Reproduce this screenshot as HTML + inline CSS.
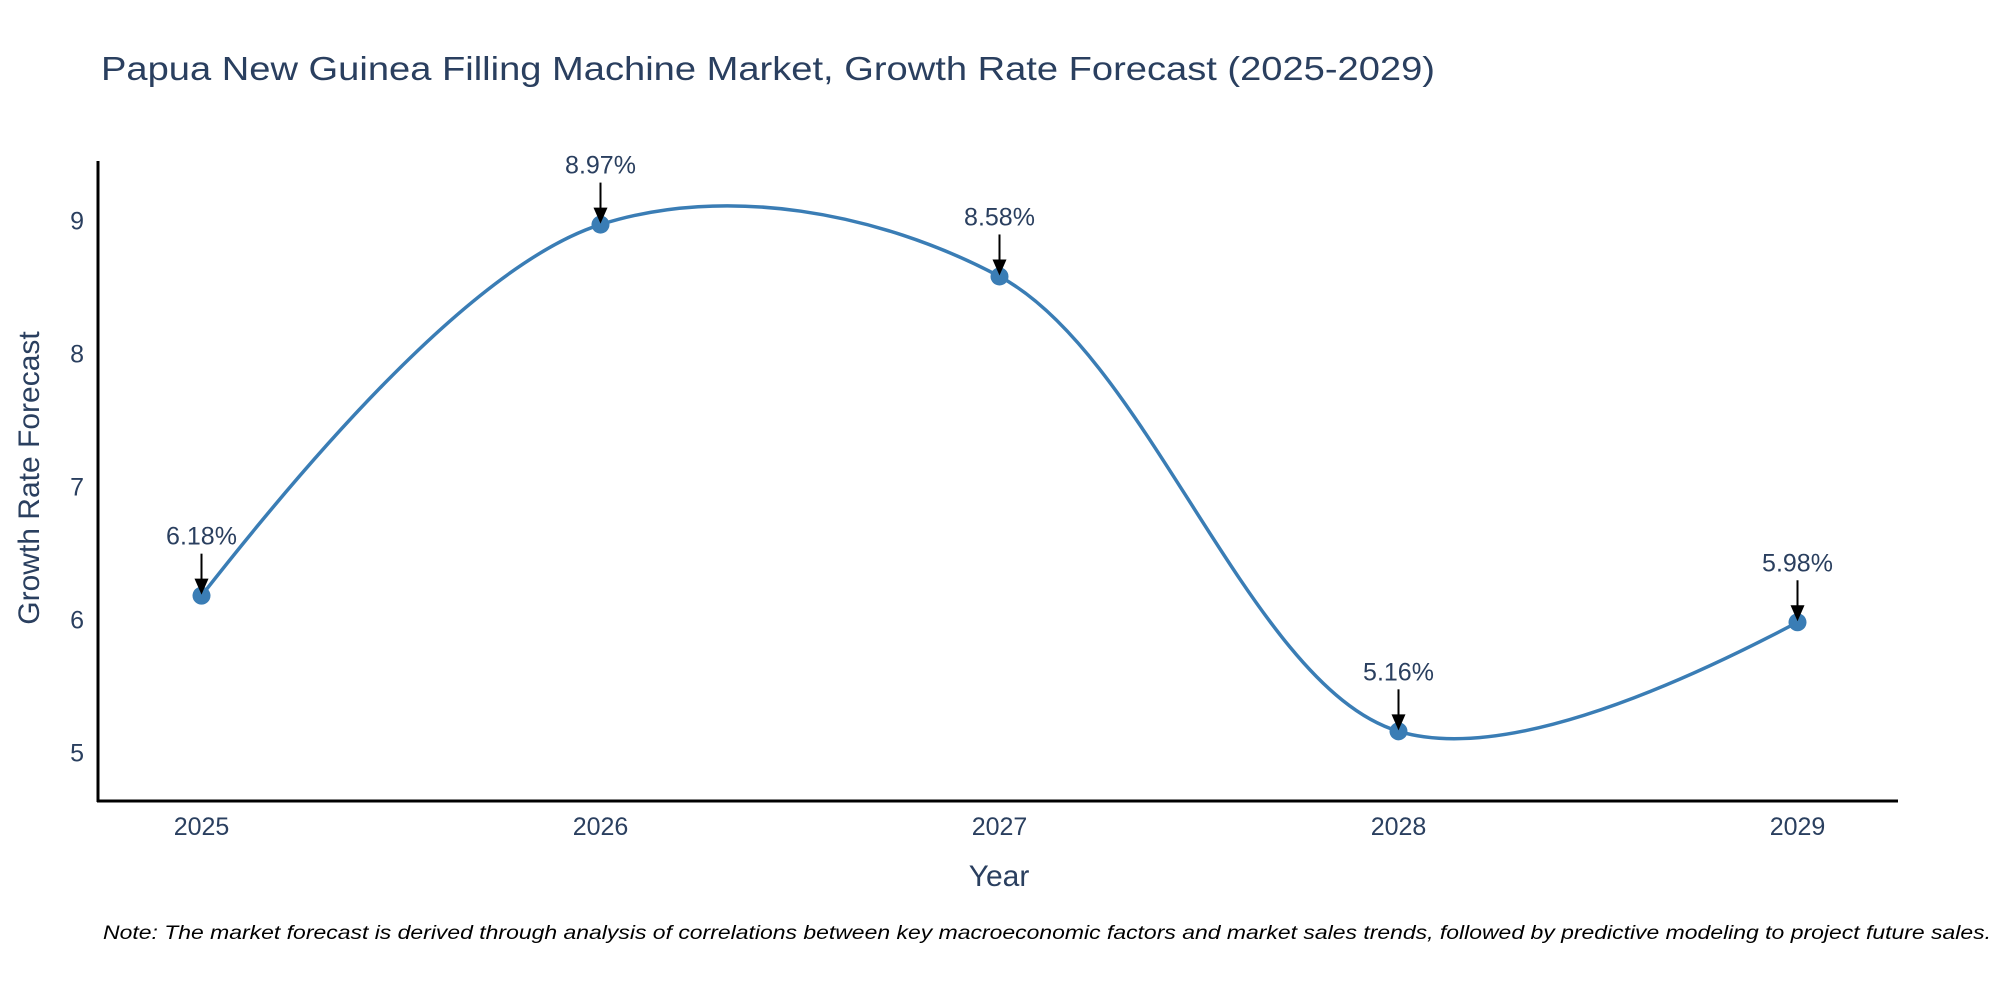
<!DOCTYPE html>
<html><head><meta charset="utf-8"><style>
html,body{margin:0;padding:0;background:#fff;}
svg{display:block;font-family:"Liberation Sans",sans-serif;}
</style></head><body>
<svg id="chart" width="2000" height="1000" viewBox="0 0 2000 1000">
<text x="101" y="80" font-size="33" fill="#2a3f5f" textLength="1334" lengthAdjust="spacingAndGlyphs">Papua New Guinea Filling Machine Market, Growth Rate Forecast (2025-2029)</text>
<g id="plot"></g>
<line x1="98" y1="161" x2="98" y2="802" stroke="#000" stroke-width="3"/>
<line x1="97" y1="801" x2="1898" y2="801" stroke="#000" stroke-width="3"/>
<text x="999" y="886" font-size="30" fill="#2a3f5f" text-anchor="middle">Year</text>
<text transform="translate(39,478) rotate(-90)" font-size="30" fill="#2a3f5f" text-anchor="middle">Growth Rate Forecast</text>
<text x="103" y="939" font-size="19" font-style="italic" fill="#000" textLength="1888" lengthAdjust="spacingAndGlyphs">Note: The market forecast is derived through analysis of correlations between key macroeconomic factors and market sales trends, followed by predictive modeling to project future sales.</text>
</svg>
<script>
const years = ["2025","2026","2027","2028","2029"];
const values = [6.18, 8.97, 8.58, 5.16, 5.98];
const labels = ["6.18%","8.97%","8.58%","5.16%","5.98%"];
const yTicks = [5,6,7,8,9];

const NS="http://www.w3.org/2000/svg";
const g=document.getElementById('plot');
function xs(i){return 201.5+i*399;}
function ys(v){return 752.6-(v-5)*133;}
function mk(t,a){const e=document.createElementNS(NS,t);for(const k in a)e.setAttribute(k,a[k]);g.appendChild(e);return e;}

yTicks.forEach(v=>{
  const t=mk('text',{x:84,y:ys(v)+9,'font-size':25,fill:'#2a3f5f','text-anchor':'end'});
  t.textContent=v;
  
  
});
years.forEach((y,i)=>{
  const t=mk('text',{x:xs(i),y:835,'font-size':25,fill:'#2a3f5f','text-anchor':'middle'});
  t.textContent=y;
  
  
});

const pts=values.map((v,i)=>[xs(i),ys(v)]);
function tang(p,c,n,s){
  const d1x=p[0]-c[0],d1y=p[1]-c[1],d2x=n[0]-c[0],d2y=n[1]-c[1];
  const d1a=Math.pow(d1x*d1x+d1y*d1y,0.25),d2a=Math.pow(d2x*d2x+d2y*d2y,0.25);
  const nx=(d2a*d2a*d1x-d1a*d1a*d2x)*s,ny=(d2a*d2a*d1y-d1a*d1a*d2y)*s;
  const e1=3*d2a*(d1a+d2a),e2=3*d1a*(d1a+d2a);
  return [[c[0]+nx/e1,c[1]+ny/e1],[c[0]-nx/e2,c[1]-ny/e2]];
}
const T=[];for(let i=1;i<pts.length-1;i++)T.push(tang(pts[i-1],pts[i],pts[i+1],1));
let d='M'+pts[0]+'Q'+T[0][0]+' '+pts[1];
for(let i=2;i<pts.length-1;i++)d+='C'+T[i-2][1]+' '+T[i-1][0]+' '+pts[i];
d+='Q'+T[pts.length-3][1]+' '+pts[pts.length-1];
const line=mk('path',{d:d,fill:'none',stroke:'#3a7db5','stroke-width':3.5});



pts.forEach((p,i)=>{
  const c=mk('circle',{cx:p[0],cy:p[1],r:9,fill:'#3a7db5'});
  
  
  const a=mk('line',{x1:p[0],y1:p[1]-42,x2:p[0],y2:p[1]-14,stroke:'#000','stroke-width':2});
  
  
  const h=mk('polygon',{points:(p[0]-7)+','+(p[1]-17)+' '+(p[0]+7)+','+(p[1]-17)+' '+p[0]+','+(p[1]-1),fill:'#000'});
  
  
  const t=mk('text',{x:p[0],y:p[1]-51,'font-size':25,fill:'#2a3f5f','text-anchor':'middle'});
  t.textContent=labels[i];
  
  
});
</script>
</body></html>
